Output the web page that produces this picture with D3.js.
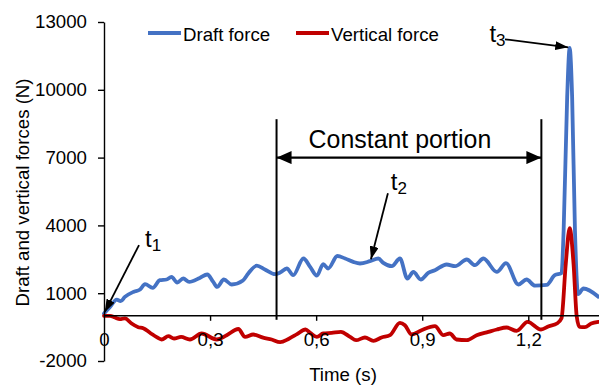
<!DOCTYPE html>
<html>
<head>
<meta charset="utf-8">
<script src="https://cdn.jsdelivr.net/npm/d3@7"></script>
<style>
  html, body { margin: 0; padding: 0; background: #fff; }
  svg { display: block; }
  text { font-family: "Liberation Sans", Arial, Helvetica, sans-serif; fill: #000; }
</style>
</head>
<body>
<svg id="chart" width="599" height="385"></svg>
<script>
// Draft force (N) over time (s)
const draftTime = [0, 0.017, 0.036, 0.047, 0.059, 0.083, 0.102, 0.116, 0.138, 0.158, 0.177, 0.191, 0.207, 0.224, 0.241,
  0.271, 0.292, 0.309, 0.320, 0.339, 0.361, 0.393, 0.408, 0.432, 0.455, 0.484, 0.498, 0.517, 0.535, 0.564, 0.583,
  0.602, 0.620, 0.634, 0.660, 0.682, 0.705, 0.724, 0.752, 0.776, 0.790, 0.814, 0.837, 0.858, 0.875, 0.896, 0.917,
  0.936, 0.969, 0.993, 1.026, 1.049, 1.073, 1.111, 1.137, 1.172, 1.195, 1.219, 1.252, 1.275, 1.294, 1.300, 1.310,
  1.317, 1.324, 1.332, 1.341, 1.356, 1.398];
const draftForce = [100, 394, 720, 646, 836, 1057, 1163, 1398, 1235, 1575, 1606, 1721, 1473, 1650, 1500,
  1677, 1827, 1500, 1279, 1606, 1385, 1562, 1872, 2217, 2049, 1841, 1916, 2093, 1796, 2535, 2164,
  1774, 2283, 2093, 2646, 2535, 2385, 2314, 2416, 2535, 2341, 2195, 2535, 1650, 1942, 1606, 1898,
  2018, 2270, 2195, 2491, 2239, 2535, 1942, 2327, 1385, 1606, 1332, 1367, 1796, 1885, 3788, 9686,
  11850, 9686, 3788, 955, 1208, 845];

// Vertical force (N) over time (s)
const verticalTime = [0, 0.017, 0.031, 0.045, 0.059, 0.078, 0.097, 0.111, 0.130, 0.149, 0.163, 0.182, 0.198, 0.218,
  0.243, 0.276, 0.319, 0.347, 0.380, 0.399, 0.422, 0.450, 0.474, 0.498, 0.523, 0.546, 0.570, 0.583, 0.602, 0.620,
  0.644, 0.670, 0.696, 0.713, 0.738, 0.762, 0.785, 0.809, 0.837, 0.851, 0.870, 0.898, 0.936, 0.960, 0.978, 0.997,
  1.026, 1.054, 1.087, 1.111, 1.139, 1.167, 1.198, 1.236, 1.258, 1.281, 1.294, 1.306, 1.317, 1.328, 1.337, 1.345,
  1.360, 1.378, 1.398];
const verticalForce = [0, 0, -77, -150, -110, -341, -505, -549, -748, -947, -1049, -903, -1004, -934,
  -1049, -783, -1049, -858, -584, -934, -827, -969, -1049, -1168, -1013, -814, -606, -757, -934, -783,
  -757, -712, -934, -1080, -960, -1110, -960, -858, -314, -416, -827, -637, -460, -858, -783, -1049,
  -1080, -858, -712, -606, -518, -668, -270, -606, -460, -341, -110, 2300, 3880, 2300, -30, -491,
  -500, -341, -270];

const seriesNames = ["Draft force", "Vertical force"];
const seriesColors = ["#4472C4", "#C00000"];

const yTicks = [-2000, 1000, 4000, 7000, 10000, 13000];
const yTickLabels = ["-2000", "1000", "4000", "7000", "10000", "13000"];
const xTicks = [0, 0.3, 0.6, 0.9, 1.2];
const xTickLabels = ["0", "0,3", "0,6", "0,9", "1,2"];

// Constant portion bounds (s) and the force level of its arrow (N)
const portionBounds = [0.488, 1.237];
const portionTop = 8700;
const portionArrowLevel = 7000;

// Labelled instants: text anchor and arrow (time, force)
const instants = [
  { sub: "1", text: [0.116, 3040], from: [0.099, 3130], to: [0.002, 160] },
  { sub: "2", text: [0.811, 5560], from: [0.803, 5420], to: [0.755, 2500] },
  { sub: "3", text: [1.090, 12130], from: [1.134, 12235], to: [1.313, 11880] }
];

const svg = d3.select("#chart");
const x = d3.scaleLinear().domain([0, 1.4]).range([104, 599]);
const y = d3.scaleLinear().domain([-2000, 13000]).range([361, 22]);

// arrowheads
const defs = svg.append("defs");
defs.append("marker")
  .attr("id", "head")
  .attr("viewBox", "0 0 13 9")
  .attr("refX", 13).attr("refY", 4.5)
  .attr("markerWidth", 13).attr("markerHeight", 9)
  .attr("markerUnits", "userSpaceOnUse")
  .attr("orient", "auto")
  .append("path").attr("d", "M0,0L13,4.5L0,9Z").attr("fill", "#000");
defs.append("marker")
  .attr("id", "bigHead")
  .attr("viewBox", "0 0 15 13")
  .attr("refX", 15).attr("refY", 6.5)
  .attr("markerWidth", 15).attr("markerHeight", 13)
  .attr("markerUnits", "userSpaceOnUse")
  .attr("orient", "auto-start-reverse")
  .append("path").attr("d", "M0,0L15,6.5L0,13Z").attr("fill", "#000");

// series lines
const line = d3.line()
  .x(d => x(d[0]))
  .y(d => y(d[1]))
  .curve(d3.curveMonotoneX);

const series = [
  d3.zip(draftTime, draftForce),
  d3.zip(verticalTime, verticalForce)
];

svg.append("g").selectAll("path")
  .data(series)
  .join("path")
  .attr("d", line)
  .attr("fill", "none")
  .attr("stroke", (d, i) => seriesColors[i])
  .attr("stroke-width", 3.8)
  .attr("stroke-linejoin", "round")
  .attr("stroke-linecap", "round");

// y axis
const yAxis = svg.append("g")
  .attr("transform", `translate(${x(0)},0)`)
  .call(d3.axisLeft(y).tickValues(yTicks).tickSize(6).tickSizeOuter(0).tickPadding(11)
    .tickFormat((d, i) => yTickLabels[i]));

// x axis along zero force
const xAxis = svg.append("g")
  .attr("transform", `translate(0,${y(0)})`)
  .call(d3.axisBottom(x).tickValues(xTicks).tickSize(5).tickSizeOuter(0).tickPadding(12)
    .tickFormat((d, i) => xTickLabels[i]));

[yAxis, xAxis].forEach(g => {
  g.selectAll("path.domain").attr("stroke", "#000").attr("stroke-width", 1.4);
  g.selectAll(".tick line").attr("stroke", "#000").attr("stroke-width", 1.4);
  g.selectAll(".tick text")
    .attr("font-size", "18.67px")
    .attr("font-family", "'Liberation Sans', Arial, sans-serif")
    .attr("fill", "#000");
});
xAxis.select("path.domain").attr("d", `M${x(0)},0H${x(1.4)}`);
xAxis.selectAll(".tick").filter(d => d === 0).select("line").remove();

// axis titles
svg.append("text")
  .attr("transform", `translate(28.5,${(y(-2000) + y(13000)) / 2 + 1}) rotate(-90)`)
  .attr("text-anchor", "middle")
  .attr("font-size", "18.67px")
  .text("Draft and vertical forces (N)");

svg.append("text")
  .attr("x", 343).attr("y", 381)
  .attr("text-anchor", "middle")
  .attr("font-size", "18.67px")
  .text("Time (s)");

// legend
const legend = svg.append("g");
const legendX = [148, 296];
seriesNames.forEach((name, i) => {
  legend.append("line")
    .attr("x1", legendX[i]).attr("x2", legendX[i] + 33)
    .attr("y1", 33).attr("y2", 33)
    .attr("stroke", seriesColors[i]).attr("stroke-width", 3.8);
  legend.append("text")
    .attr("x", legendX[i] + 35).attr("y", 40.5)
    .attr("font-size", "18.67px")
    .text(name);
});

// constant portion markers
const ann = svg.append("g");
portionBounds.forEach(t => {
  ann.append("line")
    .attr("x1", x(t)).attr("x2", x(t))
    .attr("y1", y(portionTop)).attr("y2", y(0) + 4)
    .attr("stroke", "#000").attr("stroke-width", 2);
});
ann.append("line")
  .attr("x1", x(portionBounds[0])).attr("x2", x(portionBounds[1]))
  .attr("y1", y(portionArrowLevel)).attr("y2", y(portionArrowLevel))
  .attr("stroke", "#000").attr("stroke-width", 2.2)
  .attr("marker-start", "url(#bigHead)")
  .attr("marker-end", "url(#bigHead)");
ann.append("text")
  .attr("x", x(0.837)).attr("y", y(portionArrowLevel) - 10)
  .attr("text-anchor", "middle")
  .attr("font-size", "24.9px")
  .text("Constant portion");

// labelled instants
instants.forEach(p => {
  ann.append("line")
    .attr("x1", x(p.from[0])).attr("y1", y(p.from[1]))
    .attr("x2", x(p.to[0])).attr("y2", y(p.to[1]))
    .attr("stroke", "#000").attr("stroke-width", 1.8)
    .attr("marker-end", "url(#head)");
  const t = ann.append("text")
    .attr("x", x(p.text[0])).attr("y", y(p.text[1]))
    .attr("font-size", "24px");
  t.append("tspan").text("t");
  t.append("tspan").attr("dy", 4).attr("font-size", "17px").text(p.sub);
});
</script>
</body>
</html>
